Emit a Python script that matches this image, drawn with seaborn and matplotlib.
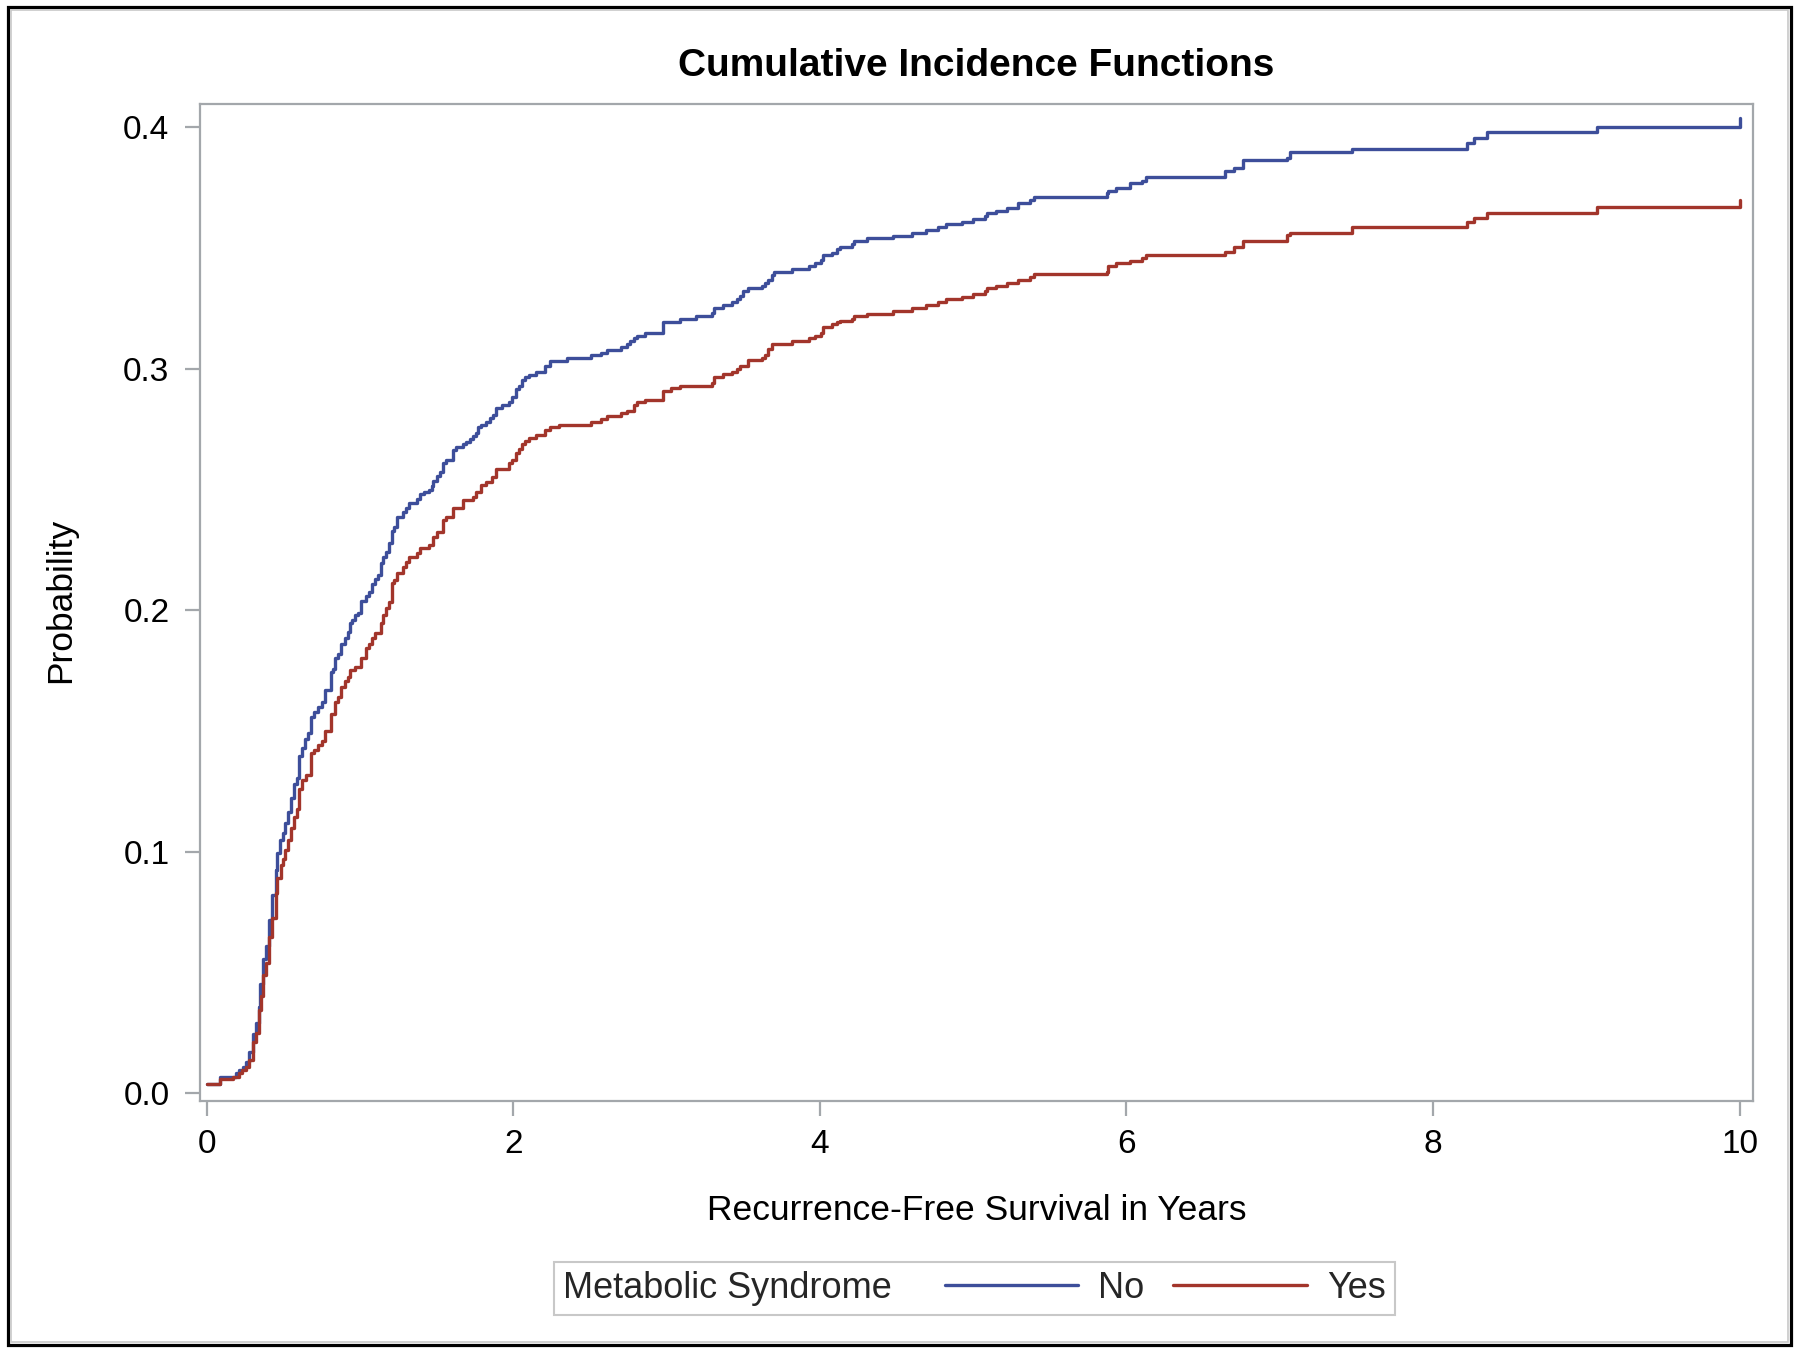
import matplotlib
matplotlib.use('Agg')
import matplotlib.pyplot as plt
import seaborn as sns
import pandas as pd
from matplotlib.patches import Rectangle
from matplotlib.offsetbox import HPacker

# ---- data ----
no_time = [0.0, 0.087, 0.19, 0.21, 0.24, 0.26, 0.28, 0.30, 0.32, 0.34, 0.35, 0.37, 0.39, 0.41, 0.43,
           0.45, 0.46, 0.48, 0.50, 0.51, 0.53, 0.55, 0.57, 0.59, 0.60, 0.62, 0.64, 0.66, 0.68, 0.70,
           0.73, 0.75, 0.77, 0.81, 0.825, 0.84, 0.86, 0.88, 0.90, 0.92, 0.935, 0.95, 0.97, 0.99, 1.01,
           1.04, 1.06, 1.08, 1.10, 1.12, 1.14, 1.15, 1.17, 1.19, 1.21, 1.22, 1.24, 1.28, 1.30, 1.32,
           1.37, 1.39, 1.42, 1.45, 1.47, 1.48, 1.50, 1.52, 1.54, 1.56, 1.61, 1.63, 1.67, 1.69, 1.72,
           1.74, 1.76, 1.77, 1.79, 1.82, 1.85, 1.87, 1.89, 1.93, 1.97, 1.99, 2.02, 2.04, 2.06, 2.08,
           2.10, 2.15, 2.21, 2.24, 2.35, 2.51, 2.57, 2.61, 2.70, 2.74, 2.76, 2.79, 2.81, 2.86, 2.98,
           3.09, 3.19, 3.30, 3.31, 3.37, 3.43, 3.46, 3.48, 3.50, 3.53, 3.62, 3.64, 3.66, 3.69, 3.70,
           3.82, 3.93, 3.97, 4.01, 4.02, 4.08, 4.11, 4.13, 4.21, 4.22, 4.31, 4.48, 4.60, 4.69, 4.77,
           4.82, 4.93, 5.00, 5.08, 5.09, 5.15, 5.22, 5.29, 5.37, 5.40, 5.87, 5.88, 5.93, 6.02, 6.10,
           6.13, 6.64, 6.70, 6.76, 7.05, 7.07, 7.47, 8.22, 8.27, 8.35, 9.07, 10.0]
no_prob = [0.0037, 0.0066, 0.0083, 0.0095, 0.0108, 0.013, 0.017, 0.0244, 0.029, 0.0356, 0.045, 0.0555,
           0.061, 0.0717, 0.082, 0.0924, 0.0994, 0.105, 0.1077, 0.112, 0.1164, 0.122, 0.128, 0.1305,
           0.1396, 0.143, 0.1466, 0.149, 0.1558, 0.158, 0.160, 0.162, 0.167, 0.1744, 0.1756, 0.180,
           0.182, 0.186, 0.1885, 0.191, 0.1947, 0.196, 0.198, 0.199, 0.204, 0.206, 0.2075, 0.211, 0.213,
           0.2146, 0.2196, 0.222, 0.224, 0.228, 0.233, 0.2345, 0.2386, 0.2407, 0.2423, 0.2444, 0.246,
           0.248, 0.249, 0.2498, 0.2514, 0.2535, 0.2556, 0.2572, 0.261, 0.2622, 0.2664, 0.2676, 0.2688,
           0.2697, 0.2709, 0.272, 0.2734, 0.2759, 0.2767, 0.278, 0.2796, 0.281, 0.2837, 0.285, 0.2863,
           0.2883, 0.2916, 0.2929, 0.2954, 0.2966, 0.2974, 0.2987, 0.301, 0.3032, 0.3045, 0.3057,
           0.3065, 0.3078, 0.309, 0.3103, 0.3115, 0.3128, 0.3136, 0.3148, 0.3194, 0.3206, 0.322,
           0.3231, 0.325, 0.3264, 0.3277, 0.329, 0.330, 0.3322, 0.3335, 0.3343, 0.3355, 0.3368, 0.339,
           0.340, 0.3413, 0.3426, 0.344, 0.345, 0.347, 0.348, 0.3496, 0.3505, 0.3517, 0.353, 0.354,
           0.355, 0.3563, 0.3575, 0.3587, 0.360, 0.3608, 0.362, 0.3633, 0.3645, 0.3654, 0.3666, 0.3687,
           0.370, 0.371, 0.3728, 0.3737, 0.375, 0.377, 0.378, 0.3795, 0.382, 0.383, 0.3865, 0.3873,
           0.3898, 0.391, 0.3935, 0.3956, 0.398, 0.400, 0.404]

yes_time = [0.0, 0.087, 0.17, 0.21, 0.23, 0.26, 0.28, 0.30, 0.32, 0.34, 0.355, 0.37, 0.39, 0.41, 0.43,
            0.45, 0.46, 0.485, 0.50, 0.51, 0.53, 0.55, 0.57, 0.59, 0.60, 0.62, 0.65, 0.68, 0.70, 0.73,
            0.75, 0.77, 0.81, 0.84, 0.86, 0.88, 0.90, 0.92, 0.935, 0.97, 1.01, 1.04, 1.06, 1.08, 1.10,
            1.14, 1.15, 1.17, 1.19, 1.21, 1.22, 1.24, 1.28, 1.30, 1.32, 1.37, 1.39, 1.45, 1.48, 1.50,
            1.54, 1.56, 1.61, 1.67, 1.74, 1.76, 1.79, 1.82, 1.86, 1.89, 1.97, 1.99, 2.02, 2.04, 2.06,
            2.08, 2.10, 2.15, 2.21, 2.24, 2.30, 2.51, 2.57, 2.61, 2.70, 2.74, 2.79, 2.81, 2.86, 2.98,
            3.03, 3.09, 3.30, 3.31, 3.37, 3.43, 3.46, 3.48, 3.53, 3.62, 3.64, 3.66, 3.69, 3.82, 3.93,
            3.97, 4.01, 4.02, 4.08, 4.11, 4.13, 4.21, 4.22, 4.31, 4.48, 4.60, 4.69, 4.77, 4.82, 4.93,
            5.00, 5.08, 5.09, 5.15, 5.22, 5.29, 5.37, 5.40, 5.87, 5.88, 5.93, 6.02, 6.10, 6.13, 6.64,
            6.70, 6.76, 7.05, 7.07, 7.47, 8.22, 8.27, 8.35, 9.07, 10.0]
yes_prob = [0.0037, 0.0058, 0.0066, 0.0083, 0.0095, 0.0108, 0.0137, 0.021, 0.025, 0.0344, 0.040, 0.049,
            0.054, 0.0646, 0.0725, 0.083, 0.089, 0.0944, 0.097, 0.1007, 0.1048, 0.1098, 0.1143, 0.1176,
            0.126, 0.1297, 0.1317, 0.1408, 0.142, 0.144, 0.146, 0.150, 0.157, 0.162, 0.164, 0.168,
            0.1705, 0.1723, 0.1752, 0.1765, 0.180, 0.1843, 0.186, 0.1885, 0.1905, 0.1947, 0.198, 0.201,
            0.2034, 0.2113, 0.2125, 0.2154, 0.2179, 0.220, 0.222, 0.2237, 0.2258, 0.227, 0.2303, 0.2324,
            0.2374, 0.2386, 0.2423, 0.2457, 0.247, 0.249, 0.2519, 0.2531, 0.2552, 0.2585, 0.261, 0.2622,
            0.2651, 0.2668, 0.2688, 0.270, 0.2713, 0.2726, 0.2746, 0.2759, 0.2767, 0.278, 0.2792, 0.2804,
            0.2817, 0.2825, 0.285, 0.2863, 0.2871, 0.2908, 0.292, 0.2929, 0.2941, 0.2966, 0.2978, 0.2987,
            0.2999, 0.301, 0.3036, 0.3045, 0.3057, 0.3082, 0.3103, 0.3115, 0.3128, 0.3136, 0.3148,
            0.3173, 0.3186, 0.3194, 0.320, 0.3206, 0.322, 0.3227, 0.324, 0.325, 0.3264, 0.3277, 0.329,
            0.3297, 0.331, 0.3322, 0.3335, 0.3343, 0.3355, 0.3368, 0.338, 0.3393, 0.340, 0.3426, 0.3438,
            0.3447, 0.346, 0.347, 0.3484, 0.3505, 0.353, 0.3554, 0.3563, 0.3587, 0.361, 0.3625, 0.3645,
            0.367, 0.370]

groups = ['No', 'Yes']
x_ticks = [0, 2, 4, 6, 8, 10]
y_ticks = [0.0, 0.1, 0.2, 0.3, 0.4]
y_tick_labels = ['0.0', '0.1', '0.2', '0.3', '0.4']
title = 'Cumulative Incidence Functions'
x_label = 'Recurrence-Free Survival in Years'
y_label = 'Probability'
legend_title = 'Metabolic Syndrome'

# ---- styling ----
palette = {'No': '#3D4E9A', 'Yes': '#A2352B'}
spine_gray = '#A3A7AB'
line_w = 2.4

sns.set_theme(style='ticks')
plt.rcParams['font.family'] = ['Liberation Sans', 'DejaVu Sans']

df = pd.concat([
    pd.DataFrame({'time': no_time, 'prob': no_prob, 'group': groups[0]}),
    pd.DataFrame({'time': yes_time, 'prob': yes_prob, 'group': groups[1]}),
], ignore_index=True)

fig = plt.figure(figsize=(18, 13.54), dpi=100)
fig.patch.set_facecolor('white')
ax = fig.add_axes([0.1111, 0.1869, 0.8628, 0.7363])

sns.lineplot(data=df, x='time', y='prob', hue='group', hue_order=groups, palette=palette,
             estimator=None, drawstyle='steps-post', linewidth=line_w, ax=ax, legend=True)

ax.set_xlim(-0.043, 10.087)
ax.set_ylim(-0.0033, 0.4097)
ax.set_xticks(x_ticks)
ax.set_xticklabels([str(v) for v in x_ticks])
ax.set_yticks(y_ticks)
ax.set_yticklabels(y_tick_labels)

for sp in ax.spines.values():
    sp.set_visible(True)
    sp.set_color(spine_gray)
    sp.set_linewidth(1.6)

ax.tick_params(axis='both', direction='out', length=11, width=1.6, color=spine_gray,
               labelsize=24, labelcolor='black')
ax.tick_params(axis='x', pad=9)
ax.tick_params(axis='y', pad=11)

ax.set_xlabel(x_label, fontsize=25.5, color='black')
ax.xaxis.set_label_coords(0.5, -0.1095)
ax.xaxis.label.set_verticalalignment('center')
ax.set_ylabel(y_label, fontsize=25.5, color='black')
ax.yaxis.set_label_coords(-0.0895, 0.502)
ax.yaxis.label.set_verticalalignment('center')

fig.text(0.5422, 0.951, title, ha='center', va='center', fontsize=28, fontweight='bold', color='black')

# legend: title at the left, entries to the right
handles, labels = ax.get_legend_handles_labels()
if ax.get_legend() is not None:
    ax.get_legend().remove()
leg = fig.legend(handles, labels, title=legend_title, ncol=2, loc='center',
                 bbox_to_anchor=(0.5414, 0.0487), frameon=True, fancybox=False,
                 fontsize=26, title_fontsize=26, handlelength=3.7, handletextpad=0.55,
                 columnspacing=0.8, borderpad=0.25, edgecolor='#C8C8C8', framealpha=1)
leg.get_frame().set_linewidth(1.5)
for h in leg.get_lines():
    h.set_linewidth(line_w)
old_box = leg._legend_box
new_box = HPacker(pad=old_box.pad, sep=38, align='center', children=old_box.get_children())
new_box.set_figure(fig)
new_box.set_offset(leg._findoffset)
leg._legend_box = new_box

# outer frame
fig.patches.append(Rectangle((8 / 1800, 1 - 1345 / 1354), (1791 - 8) / 1800, (1345 - 7) / 1354,
                             transform=fig.transFigure, fill=False, edgecolor='black', linewidth=2.3))
fig.patches.append(Rectangle((11 / 1800, 1 - 1342 / 1354), (1788 - 11) / 1800, (1342 - 10) / 1354,
                             transform=fig.transFigure, fill=False, edgecolor='#C8C8C8', linewidth=1.2))

fig.savefig('out.png', dpi=100)
